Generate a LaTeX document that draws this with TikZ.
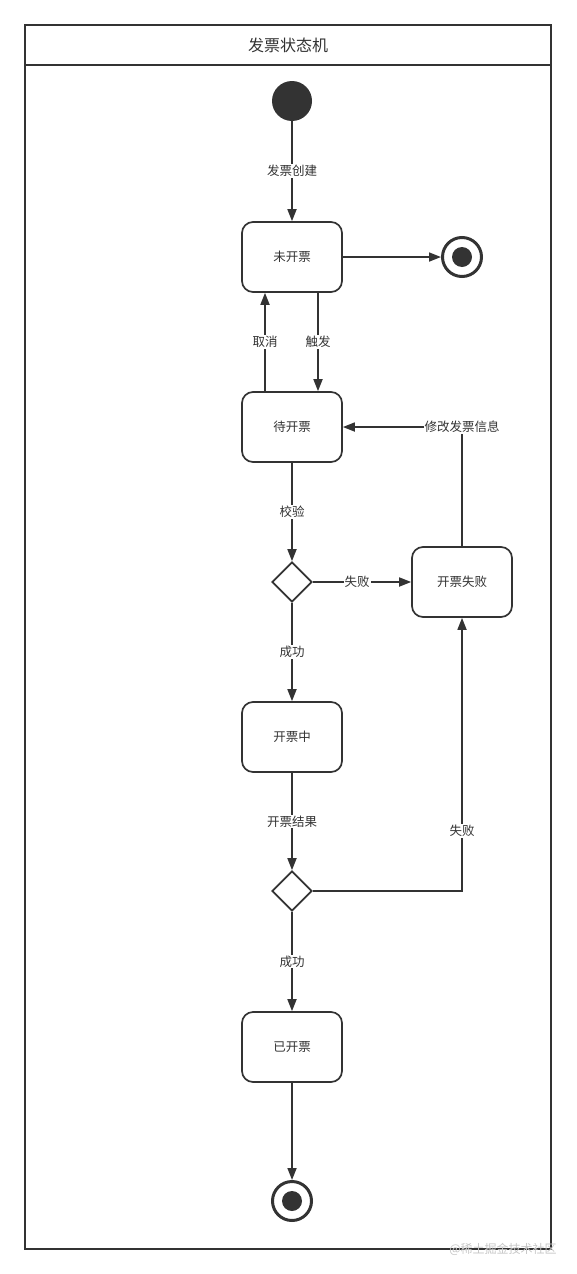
\documentclass[tikz,border=0pt]{standalone}
\usepackage{fontspec}
\setmainfont{Noto Sans CJK SC}
\usetikzlibrary{arrows.meta,shapes.geometric}
\definecolor{ink}{HTML}{333333}
\tikzset{
    state/.style={draw=ink,line width=1.7pt,rounded corners=11pt,minimum width=100pt,minimum height=70pt,font=\fontsize{12.5}{14}\selectfont,text=ink},
    choice/.style={draw=ink,line width=1.7pt,diamond,minimum width=40pt,minimum height=40pt,inner sep=0pt},
    flow/.style={draw=ink,line width=1.7pt,-{Triangle[length=12pt,width=9pt]}},
    tag/.style={fill=white,font=\fontsize{12.5}{14}\selectfont,text=ink,inner sep=1pt}
}
\begin{document}
\begin{tikzpicture}[x=1pt,y=-1pt]
    \useasboundingbox (0,0) rectangle (576,1274);
    % frame and title
    \draw[ink,line width=1.7pt] (25,25) rectangle (551,1249);
    \draw[ink,line width=1.7pt] (25,65) -- (551,65);
    \node[font=\fontsize{16}{18}\selectfont,text=ink] (title) at (288,45) {发票状态机};
    % states
    \node[circle,fill=ink,minimum size=40pt,inner sep=0pt] (start) at (292,101) {};
    \node[state] (weikai) at (292,257) {未开票};
    \node[state] (daikai) at (292,427) {待开票};
    \node[choice] (check) at (292,582) {};
    \node[state] (shibai) at (462,582) {开票失败};
    \node[state] (kaizhong) at (292,737) {开票中};
    \node[choice] (result) at (292,891) {};
    \node[state] (yikai) at (292,1047) {已开票};
    \foreach \name/\x/\y in {endA/462/257,endB/292/1201} {
        \node[circle,draw=ink,line width=3pt,minimum size=39pt,inner sep=0pt] (\name) at (\x,\y) {};
        \fill[ink] (\x,\y) circle (10pt);
    }
    % transitions
    \draw[flow] (start) -- node[tag] {发票创建} (weikai);
    \draw[flow] (weikai) -- (endA);
    \draw[flow] (weikai.south -| 318,0) -- node[tag] {触发} (daikai.north -| 318,0);
    \draw[flow] (daikai.north -| 265,0) -- node[tag] {取消} (weikai.south -| 265,0);
    \draw[flow] (shibai.north) |- node[tag,pos=0.5] {修改发票信息} (daikai.east);
    \draw[flow] (daikai) -- node[tag] {校验} (check);
    \draw[flow] (check) -- node[tag,pos=0.45] {失败} (shibai);
    \draw[flow] (check) -- node[tag] {成功} (kaizhong);
    \draw[flow] (kaizhong) -- node[tag] {开票结果} (result);
    \draw[flow] (result.east) -| node[tag,pos=0.61] {失败} (shibai.south);
    \draw[flow] (result) -- node[tag] {成功} (yikai);
    \draw[flow] (yikai) -- (endB);
    % watermark
    \node[font=\fontsize{12}{14}\selectfont,text=gray!45] (mark) at (503,1249) {@稀土掘金技术社区};
\end{tikzpicture}
\end{document}
